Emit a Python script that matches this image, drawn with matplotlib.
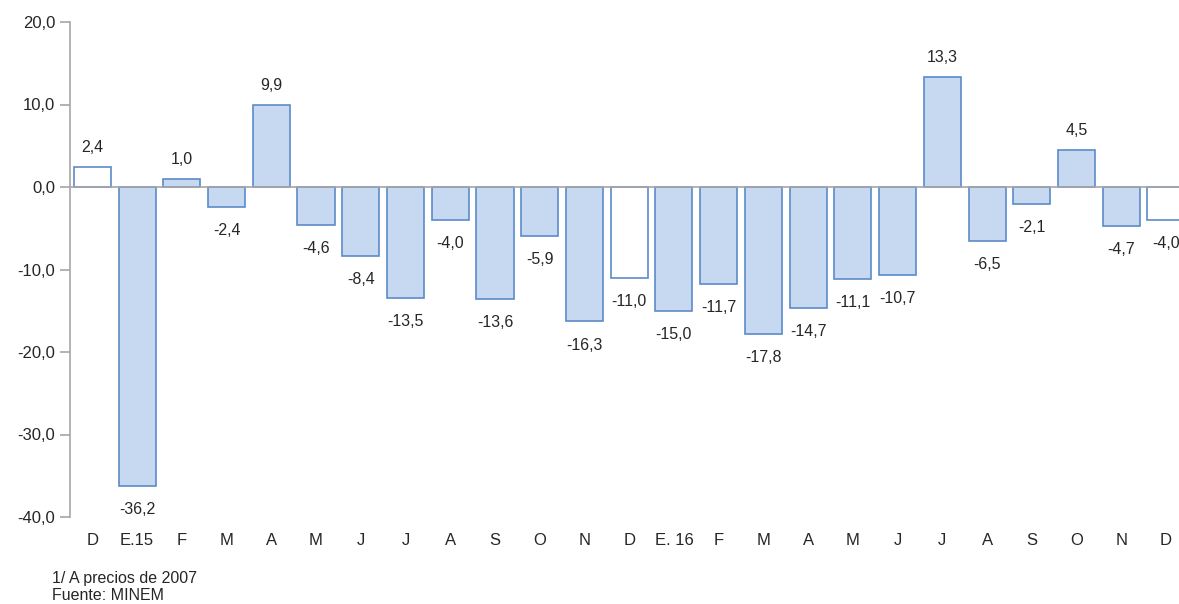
import matplotlib.pyplot as plt
import numpy as np

plt.rcParams['font.family'] = ['Liberation Sans', 'DejaVu Sans']

# Monthly variation (%)
meses = ['D', 'E.15', 'F', 'M', 'A', 'M', 'J', 'J', 'A', 'S', 'O', 'N',
         'D', 'E. 16', 'F', 'M', 'A', 'M', 'J', 'J', 'A', 'S', 'O', 'N', 'D']
valores = [2.4, -36.2, 1.0, -2.4, 9.9, -4.6, -8.4, -13.5, -4.0, -13.6, -5.9, -16.3,
           -11.0, -15.0, -11.7, -17.8, -14.7, -11.1, -10.7, 13.3, -6.5, -2.1, 4.5, -4.7, -4.0]
# December bars drawn without fill
diciembre = [0, 12, 24]

fill_col = '#C6D9F1'
edge_col = '#5B8BC9'
gray = '#A6A6A6'

fig = plt.figure(figsize=(11.79, 6.04), dpi=100)
ax = fig.add_axes([70 / 1179, 1 - 517 / 604, 1 - 70 / 1179, (517 - 22) / 604])

x = np.arange(len(meses))
colors = ['white' if i in diciembre else fill_col for i in x]
ax.bar(x, valores, width=0.83, color=colors, edgecolor=edge_col, linewidth=1.2, zorder=2)
ax.axhline(0, color=gray, linewidth=1.2, zorder=3)

for xi, v in zip(x, valores):
    lab = f"{v:.1f}".replace('.', ',')
    if v >= 0:
        ax.annotate(lab, (xi, v), xytext=(0, 14), textcoords='offset points',
                    ha='center', va='center', fontsize=11.5, color='#262626')
    else:
        ax.annotate(lab, (xi, v), xytext=(0, -17), textcoords='offset points',
                    ha='center', va='center', fontsize=11.5, color='#262626')

ax.set_xlim(-0.5, 24.29)
ax.set_ylim(-40, 20)
ax.set_yticks([-40, -30, -20, -10, 0, 10, 20])
ax.set_yticklabels([f"{t:.1f}".replace('.', ',') for t in [-40, -30, -20, -10, 0, 10, 20]])
ax.tick_params(axis='y', colors=gray, labelcolor='#262626', labelsize=12, length=7, width=1.2)

ax.set_xticks(x)
ax.set_xticklabels(meses)
ax.tick_params(axis='x', length=0, labelsize=12, labelcolor='#262626', pad=0)
for lbl in ax.get_xticklabels():
    lbl.set_y(-0.033)

for s in ['top', 'right', 'bottom']:
    ax.spines[s].set_visible(False)
ax.spines['left'].set_color(gray)
ax.spines['left'].set_linewidth(1.2)

fig.text(52 / 1179, 1 - 578 / 604, '1/ A precios de 2007', fontsize=11.5, color='#262626', va='center')
fig.text(52 / 1179, 1 - 596 / 604, 'Fuente: MINEM', fontsize=11.5, color='#262626', va='center')

fig.savefig('out.png', dpi=100)
